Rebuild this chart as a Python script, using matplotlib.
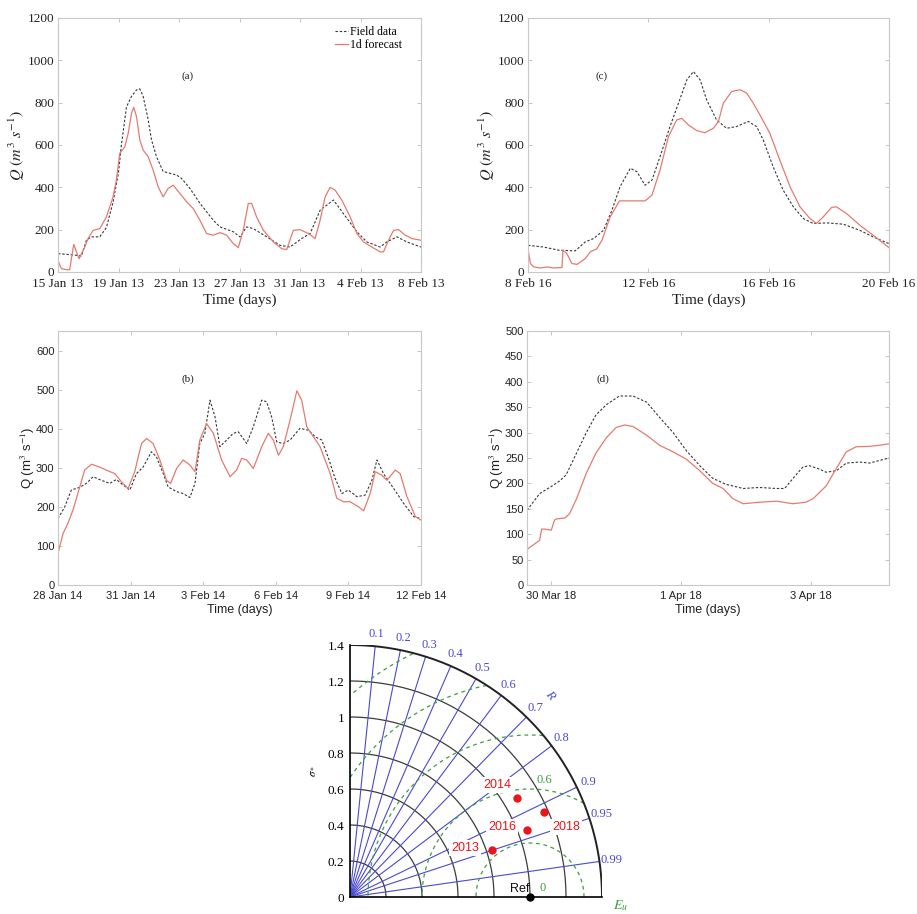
import numpy as np
import pandas as pd
import matplotlib
matplotlib.use('Agg')
import matplotlib.pyplot as plt
import matplotlib.dates as mdates
from matplotlib.ticker import FuncFormatter

plt.rcParams['mathtext.fontset'] = 'stix'
SERIF = 'Liberation Serif'
SANS = 'Liberation Sans'

# ---------------- data (days from the first tick date, discharge m3/s) ----------------
# (a) 2013 event, base 15 Jan 2013
a_field_t = [0, 1.21, 1.55, 1.88, 2.2, 2.76, 3.2, 3.64, 4.0, 4.19, 4.53, 4.86, 5.19, 5.41, 5.63,
             5.96, 6.18, 6.51, 6.95, 7.84, 8.17, 8.72, 9.38, 10.26, 10.71, 11.59, 12.03, 12.47,
             12.91, 13.8, 14.68, 15.34, 16.11, 16.67, 17.33, 18.21, 18.87, 19.76, 20.42, 21.3,
             21.74, 22.41, 23.07, 24.0]
a_field_q = [87, 79, 75, 150, 166, 166, 210, 330, 470, 600, 780, 830, 860, 865, 830,
             720, 625, 545, 475, 458, 442, 395, 325, 245, 213, 190, 166, 213,
             205, 166, 126, 118, 158, 182, 292, 340, 276, 190, 142, 118,
             142, 166, 142, 118]
a_fc_t = [0, 0.22, 0.55, 0.77, 1.04, 1.39, 1.77, 1.99, 2.32, 2.76, 3.2, 3.64, 3.86, 4.08, 4.42,
          4.64, 4.86, 5.01, 5.19, 5.41, 5.63, 5.96, 6.29, 6.62, 6.95, 7.28, 7.62, 8.06, 8.5,
          8.94, 9.38, 9.82, 10.26, 10.71, 11.15, 11.59, 11.92, 12.25, 12.58, 12.8, 13.13, 13.58,
          14.24, 14.79, 15.12, 15.56, 16.0, 16.56, 17.0, 17.33, 17.66, 17.99, 18.32, 18.76,
          19.32, 19.76, 20.2, 20.75, 21.3, 21.52, 21.85, 22.19, 22.52, 22.96, 23.4, 24.0]
a_fc_q = [55, 16, 11, 11, 130, 63, 118, 158, 197, 205, 260, 355, 434, 560, 592,
          655, 750, 778, 734, 624, 576, 545, 482, 403, 355, 395, 410, 371, 332,
          300, 245, 182, 174, 186, 174, 134, 115, 197, 324, 324, 260, 197,
          142, 110, 106, 197, 200, 182, 158, 245, 355, 400, 387, 340,
          260, 182, 142, 118, 95, 95, 150, 197, 200, 174, 158, 150]

# (b) 2014 event, base 28 Jan 2014
b_field_t = [0, 0.28, 0.55, 0.9, 1.17, 1.45, 1.79, 2.14, 2.41, 2.69, 2.97, 3.24, 3.52, 3.86,
             4.07, 4.35, 4.55, 4.9, 5.17, 5.45, 5.66, 5.86, 6.07, 6.28, 6.49, 6.69, 6.97, 7.24,
             7.45, 7.8, 8.07, 8.42, 8.62, 8.83, 9.04, 9.31, 9.59, 10.0, 10.35, 10.63, 10.9,
             11.18, 11.45, 11.73, 12.0, 12.35, 12.69, 12.97, 13.18, 13.45, 13.87, 14.28, 14.7, 15.0]
b_field_q = [170, 200, 243, 250, 260, 277, 268, 260, 270, 256, 243, 285, 302, 341,
             328, 285, 251, 239, 234, 224, 260, 362, 388, 473, 430, 354, 371, 388,
             392, 362, 405, 473, 469, 430, 366, 362, 371, 401, 396, 379, 371,
             324, 273, 234, 243, 226, 230, 268, 320, 285, 247, 209, 175, 170]
b_fc_t = [0, 0.21, 0.41, 0.62, 0.9, 1.1, 1.38, 1.72, 2.07, 2.35, 2.62, 2.9, 3.17, 3.45, 3.66,
          3.93, 4.21, 4.48, 4.65, 4.9, 5.17, 5.45, 5.66, 5.86, 6.14, 6.42, 6.76, 7.11, 7.38,
          7.59, 7.8, 8.07, 8.42, 8.69, 8.9, 9.11, 9.31, 9.59, 9.87, 10.07, 10.28, 10.56,
          10.83, 11.25, 11.52, 11.8, 12.07, 12.42, 12.63, 12.9, 13.11, 13.38, 13.59, 13.94,
          14.14, 14.42, 14.77, 15.0]
b_fc_q = [81, 132, 158, 192, 251, 294, 309, 302, 292, 285, 264, 247, 290, 362, 375,
          362, 320, 268, 260, 298, 320, 307, 290, 371, 413, 388, 320, 277, 294,
          324, 320, 298, 354, 388, 371, 332, 354, 422, 497, 473, 405, 379,
          354, 285, 222, 213, 213, 200, 190, 234, 290, 281, 268, 294,
          285, 226, 175, 166]

# (c) 2016 event, base 8 Feb 2016
c_field_t = [0, 0.52, 1.02, 1.57, 1.9, 2.18, 2.51, 2.79, 3.06, 3.4, 3.62, 3.89, 4.12, 4.39,
             4.72, 5.0, 5.28, 5.5, 5.72, 5.94, 6.27, 6.6, 6.93, 7.32, 7.6, 7.82, 8.15, 8.48,
             8.82, 9.15, 9.48, 9.92, 10.48, 11.03, 11.47, 12.0]
c_field_q = [126, 118, 103, 100, 142, 158, 197, 292, 403, 490, 474, 410, 434, 545,
             687, 797, 908, 947, 908, 813, 718, 679, 687, 711, 687, 624, 497, 387,
             308, 253, 229, 232, 226, 197, 166, 134]
c_fc_t = [0, 0.08, 0.19, 0.41, 0.63, 0.85, 1.13, 1.16, 1.29, 1.46, 1.63, 1.9, 2.07, 2.29,
          2.46, 2.73, 3.04, 3.51, 3.89, 4.12, 4.39, 4.67, 4.94, 5.11, 5.33, 5.61, 5.88, 6.16,
          6.33, 6.49, 6.77, 7.05, 7.27, 7.49, 7.71, 8.04, 8.37, 8.71, 9.04, 9.37, 9.59, 9.81,
          10.09, 10.25, 10.59, 11.03, 11.47, 12.0]
c_fc_q = [110, 40, 24, 19, 24, 19, 21, 103, 87, 40, 36, 63, 95, 110,
          150, 260, 336, 336, 336, 363, 482, 640, 718, 726, 695, 668, 658, 679,
          711, 797, 853, 861, 845, 797, 742, 655, 529, 403, 308, 253, 229, 260,
          305, 308, 276, 221, 174, 115]

# (d) 2018 event, base 30 Mar 2018
d_field_t = [-0.375, -0.18, 0, 0.13, 0.23, 0.39, 0.54, 0.69, 0.85, 1.05, 1.26, 1.47, 1.67,
             1.88, 2.08, 2.29, 2.49, 2.7, 2.96, 3.21, 3.47, 3.6, 3.73, 3.88, 3.98, 4.14, 4.24,
             4.4, 4.55, 4.76, 4.91, 5.21]
d_field_q = [147, 180, 194, 205, 217, 260, 300, 335, 355, 372, 372, 360, 330,
             300, 265, 235, 210, 198, 190, 192, 190, 190, 210, 232, 235, 228, 222,
             225, 240, 242, 240, 250]
d_fc_t = [-0.375, -0.18, -0.15, -0.1, 0.0, 0.05, 0.08, 0.21, 0.28, 0.39, 0.54, 0.69, 0.85,
          1.0, 1.13, 1.26, 1.47, 1.67, 1.88, 2.08, 2.29, 2.49, 2.65, 2.8, 2.96, 3.21, 3.47,
          3.73, 3.93, 4.04, 4.24, 4.4, 4.55, 4.7, 4.91, 5.06, 5.21]
d_fc_q = [70, 88, 110, 110, 108, 128, 130, 132, 140, 170, 220, 260, 290,
          310, 315, 312, 295, 275, 262, 248, 225, 200, 190, 170, 160, 163, 165,
          160, 163, 170, 195, 230, 262, 272, 273, 275, 278]

panels = [
    # key, base date, field t, field q, forecast t, forecast q, ticks, xlim, ylim, yticks
    ('a', '2013-01-15', a_field_t, a_field_q, a_fc_t, a_fc_q,
     ['2013-01-15', '2013-01-19', '2013-01-23', '2013-01-27', '2013-01-31', '2013-02-04', '2013-02-08'],
     (0, 24), (0, 1200), np.arange(0, 1201, 200)),
    ('c', '2016-02-08', c_field_t, c_field_q, c_fc_t, c_fc_q,
     ['2016-02-08', '2016-02-12', '2016-02-16', '2016-02-20'],
     (0, 12), (0, 1200), np.arange(0, 1201, 200)),
    ('b', '2014-01-28', b_field_t, b_field_q, b_fc_t, b_fc_q,
     ['2014-01-28', '2014-01-31', '2014-02-03', '2014-02-06', '2014-02-09', '2014-02-12'],
     (0, 15), (0, 650), np.arange(0, 601, 100)),
    ('d', '2018-03-30', d_field_t, d_field_q, d_fc_t, d_fc_q,
     ['2018-03-30', '2018-04-01', '2018-04-03'],
     (-0.375, 5.21), (0, 500), np.arange(0, 501, 50)),
]

# Taylor diagram values
years = ['2013', '2014', '2016', '2018']
sigma_n = [0.829, 1.076, 1.053, 1.176]
corr = [0.949, 0.861, 0.935, 0.916]
corr_ticks = [0.1, 0.2, 0.3, 0.4, 0.5, 0.6, 0.7, 0.8, 0.9, 0.95, 0.99]
std_arcs = [0.2, 0.4, 0.6, 0.8, 1.0, 1.2]
rms_arcs = [0.3, 0.6, 0.9, 1.2, 1.5]
std_max = 1.4

# ---------------- figure ----------------
fig = plt.figure(figsize=(9.17, 9.14), dpi=100)

rects = {
    'a': [58 / 917, 1 - 272 / 914, 363 / 917, 254 / 914],
    'c': [528 / 917, 1 - 272 / 914, 361 / 917, 254 / 914],
    'b': [58 / 917, 1 - 585 / 914, 363 / 917, 254 / 914],
    'd': [527 / 917, 1 - 585 / 914, 362 / 917, 254 / 914],
}
label_pos = {'a': (0.358, 0.77), 'c': (0.205, 0.77), 'b': (0.358, 0.81), 'd': (0.21, 0.81)}


def day_label(x, pos):
    d = mdates.num2date(x)
    return f"{d.day} {d.strftime('%b %y')}"


for key, base, ft, fq, pt, pq, ticks, xl, yl, yt in panels:
    ax = fig.add_axes(rects[key])
    b0 = pd.Timestamp(base)
    tf = (b0 + pd.to_timedelta(ft, unit='D')).to_numpy()
    tp = (b0 + pd.to_timedelta(pt, unit='D')).to_numpy()
    ax.plot(tf, fq, color='#383838', lw=0.8, linestyle=(0, (2.2, 1.6)), label='Field data')
    ax.plot(tp, pq, color='#e57b6e', lw=0.9, label='1d forecast')

    serif = key in ('a', 'c')
    fam = SERIF if serif else SANS
    ax.set_xlim((b0 + pd.to_timedelta(list(xl), unit='D')).to_numpy())
    ax.set_ylim(*yl)
    ax.set_yticks(yt)
    ax.set_xticks(pd.to_datetime(ticks).to_numpy())
    ax.xaxis.set_major_formatter(FuncFormatter(day_label))
    ax.tick_params(direction='in', length=3, width=0.6, color='#bbbbbb', top=True, right=True,
                   labelcolor='#222222', labelsize=9.5 if serif else 8, pad=4.5)
    ax.tick_params(axis='y', pad=2.5)
    for lab in ax.get_xticklabels() + ax.get_yticklabels():
        lab.set_family(fam)
    for s in ax.spines.values():
        s.set_color('#c8c8c8')
        s.set_linewidth(0.8)

    if serif:
        ax.set_xlabel('Time (days)', family=SERIF, fontsize=11, color='#222222', labelpad=2)
        ax.set_ylabel(r'$Q\ (m^3\ s^{-1})$', fontsize=11.5, color='#222222', labelpad=1)
    else:
        ax.set_xlabel('Time (days)', family=SANS, fontsize=9, color='#222222', labelpad=2)
        ax.set_ylabel(r'Q (m$^3$ s$^{-1}$)', family=SANS, fontsize=9.5, color='#222222', labelpad=-1)

    ax.text(*label_pos[key], f'({key})', transform=ax.transAxes, ha='center', va='center',
            family=SERIF, fontsize=8, color='#222222')
    if key == 'a':
        ax.legend(loc='upper right', bbox_to_anchor=(0.97, 1.0), frameon=False,
                  prop={'family': SERIF, 'size': 8.5}, handlelength=1.1, handletextpad=0.15,
                  labelspacing=0.1, borderaxespad=0.3)

# ---------------- Taylor diagram ----------------
tax = fig.add_axes([350 / 917, 1 - 897 / 914, 252 / 917, 252 / 914])
tax.set_xlim(0, std_max)
tax.set_ylim(0, std_max)
th = np.linspace(0, np.pi / 2, 300)

for r in std_arcs:
    tax.plot(r * np.cos(th), r * np.sin(th), color='#3c3c3c', lw=0.9, zorder=1)
tax.plot(std_max * np.cos(th), std_max * np.sin(th), color='#222222', lw=1.4, zorder=2)

for R in corr_ticks:
    ang = np.arccos(R)
    tax.plot([0, std_max * np.cos(ang)], [0, std_max * np.sin(ang)], color='#4a4ad0', lw=0.8, zorder=1)
    tax.text(1.47 * np.cos(ang), 1.47 * np.sin(ang), f'{R:g}', ha='center', va='center',
             family=SERIF, fontsize=9, color='#4a4ad0', clip_on=False)

tt = np.linspace(0, np.pi, 600)
for rr in rms_arcs:
    x = 1 + rr * np.cos(tt)
    y = rr * np.sin(tt)
    keep = (np.hypot(x, y) <= std_max) & (x >= 0)
    x = np.where(keep, x, np.nan)
    tax.plot(x, y, color='#3d9e3d', lw=0.9, linestyle=(0, (3, 3)), zorder=1)

tax.text(1.08, 0.65, '0.6', ha='center', va='center', family=SERIF, fontsize=9, color='#3d9e3d')
tax.text(1.05, 0.015, '0', ha='left', va='bottom', family=SERIF, fontsize=9, color='#3d9e3d')
tax.text(1.46, -0.005, r'$E_u$', ha='left', va='top', fontsize=10, color='#3d9e3d', clip_on=False)
tax.text(1.11, 1.12, 'R', ha='center', va='center', family=SERIF, style='italic', fontsize=9,
         color='#4a4ad0', rotation=-50)

# reference point
tax.plot([1.0], [0.0], 'o', color='k', ms=5, clip_on=False, zorder=6)
tax.text(0.995, 0.012, 'Ref', ha='right', va='bottom', family=SANS, fontsize=9, color='#111111')

# model points
offsets = {'2013': (-19, 1.5), '2014': (-14, 9.5), '2016': (-18, 2), '2018': (16, -11)}
for yr, s, R in zip(years, sigma_n, corr):
    px = s * R
    py = s * np.sqrt(1 - R ** 2)
    tax.plot([px], [py], 'o', color='#e8161b', ms=5, zorder=6)
    tax.annotate(yr, (px, py), xytext=offsets[yr], textcoords='offset points', ha='center',
                 va='center', family=SANS, fontsize=9, color='#e8161b', zorder=5,
                 bbox=dict(facecolor='white', edgecolor='none', pad=1.5))

tax.spines['top'].set_visible(False)
tax.spines['right'].set_visible(False)
tax.spines['left'].set_linewidth(1.2)
tax.spines['bottom'].set_linewidth(1.2)
tax.set_xticks([])
tax.set_yticks([0, 0.2, 0.4, 0.6, 0.8, 1.0, 1.2, 1.4])
tax.set_yticklabels(['0', '0.2', '0.4', '0.6', '0.8', '1', '1.2', '1.4'], family=SERIF, fontsize=9.5)
tax.tick_params(axis='y', length=0, pad=4)
tax.set_ylabel(r'$\sigma_*$', fontsize=8, labelpad=8)

fig.savefig('out.png', dpi=100)
